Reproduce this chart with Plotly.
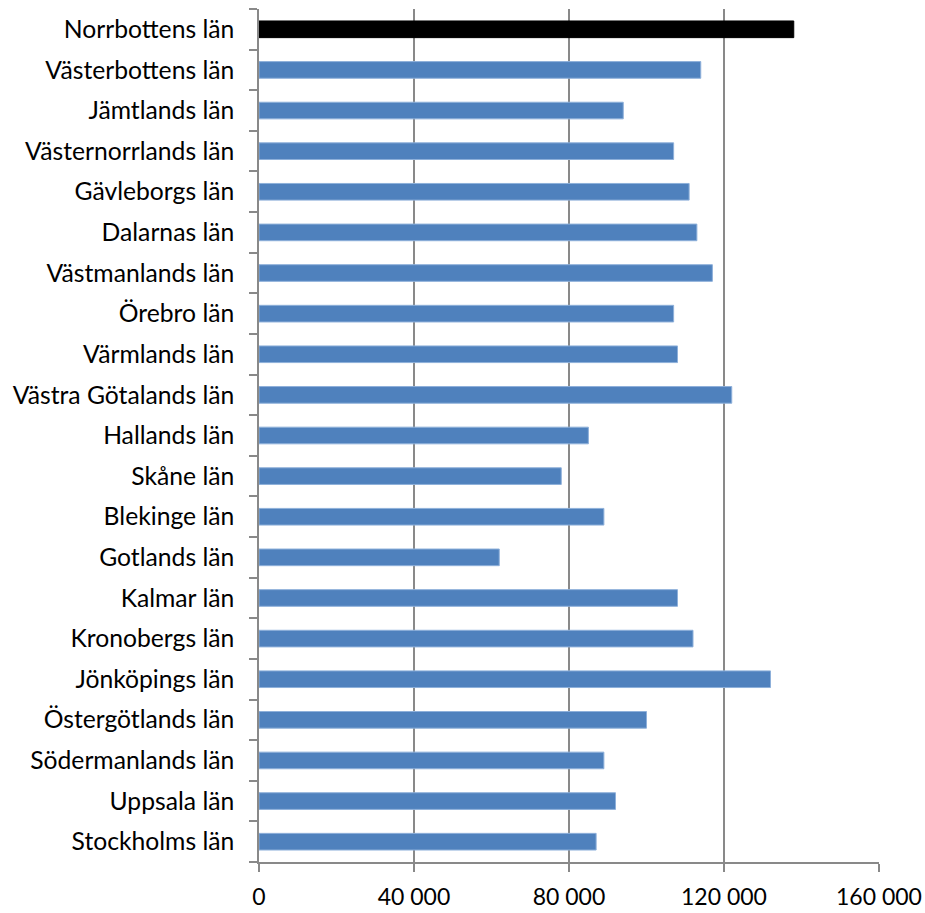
import plotly.graph_objects as go

# Counties, listed from the bottom of the chart to the top
counties = [
    "Stockholms län", "Uppsala län", "Södermanlands län", "Östergötlands län",
    "Jönköpings län", "Kronobergs län", "Kalmar län", "Gotlands län",
    "Blekinge län", "Skåne län", "Hallands län", "Västra Götalands län",
    "Värmlands län", "Örebro län", "Västmanlands län", "Dalarnas län",
    "Gävleborgs län", "Västernorrlands län", "Jämtlands län",
    "Västerbottens län", "Norrbottens län",
]
values = [
    87000, 92000, 89000, 100000,
    132000, 112000, 108000, 62000,
    89000, 78000, 85000, 122000,
    108000, 107000, 117000, 113000,
    111000, 107000, 94000,
    114000, 138000,
]
highlight = "Norrbottens län"

x_ticks = [0, 40000, 80000, 120000, 160000]

bar_colors = ["#000000" if c == highlight else "#4F81BD" for c in counties]
line_colors = ["#000000" if c == highlight else "#8EB0DA" for c in counties]

fig = go.Figure(
    go.Bar(
        x=values,
        y=counties,
        orientation="h",
        width=0.41,
        marker=dict(color=bar_colors, line=dict(color=line_colors, width=1)),
        hoverinfo="x+y",
    )
)

axis_grey = "#898989"
font_family = "Lato, 'Open Sans', sans-serif"

fig.update_layout(
    width=925,
    height=913,
    margin=dict(l=259, r=46, t=9, b=51),
    paper_bgcolor="white",
    plot_bgcolor="white",
    separators=", ",
    showlegend=False,
    font=dict(family=font_family, size=24, color="#000000"),
)

fig.update_xaxes(
    range=[0, 160000],
    tickvals=x_ticks,
    tickformat=",d",
    automargin=False,
    showgrid=True,
    gridcolor=axis_grey,
    gridwidth=1.5,
    zeroline=False,
    showline=True,
    linecolor=axis_grey,
    linewidth=1.5,
    ticks="outside",
    ticklen=8,
    tickwidth=1.5,
    tickcolor=axis_grey,
    ticklabelstandoff=6,
    tickfont=dict(size=23, family=font_family, color="#000000"),
    fixedrange=True,
)

fig.update_yaxes(
    type="category",
    categoryorder="array",
    categoryarray=counties,
    range=[-0.5, len(counties) - 0.5],
    automargin=False,
    showgrid=False,
    zeroline=False,
    showline=True,
    linecolor=axis_grey,
    linewidth=1.5,
    ticks="outside",
    tickson="boundaries",
    ticklen=8,
    tickwidth=1.5,
    tickcolor=axis_grey,
    ticklabelstandoff=18,
    tickfont=dict(size=24.7, family=font_family, color="#000000"),
    fixedrange=True,
)

fig.write_html("out.html")
